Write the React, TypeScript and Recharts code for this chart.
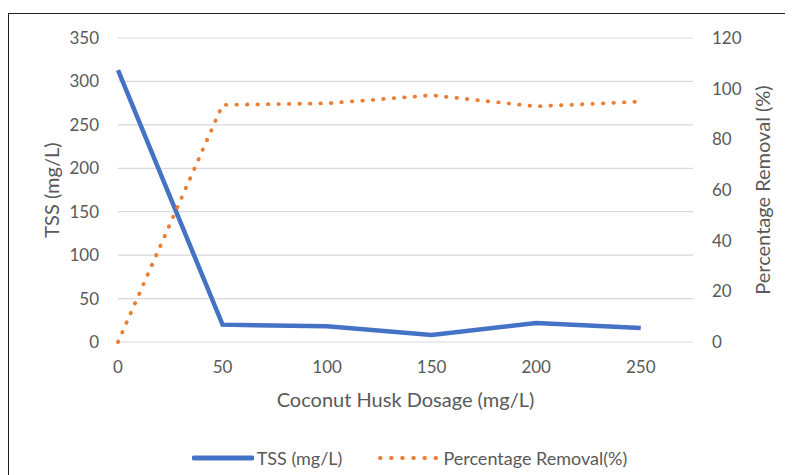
import React from "react";
import {
  LineChart,
  Line,
  XAxis,
  YAxis,
  CartesianGrid,
  Legend,
} from "recharts";

// coconut husk dosage (mg/L)
const dosage = [0, 50, 100, 150, 200, 250];
// total suspended solids left after treatment (mg/L)
const tss = [313, 20, 18, 8, 22, 16];
// removal efficiency (%)
const removal = [0, 93.6, 94.2, 97.4, 93.0, 94.9];

const xTicks = [0, 50, 100, 150, 200, 250];
const tssTicks = [0, 50, 100, 150, 200, 250, 300, 350];
const removalTicks = [0, 20, 40, 60, 80, 100, 120];

const data = dosage.map((d, i) => ({ dosage: d, tss: tss[i], removal: removal[i] }));

const FONT = "Lato, 'Open Sans', sans-serif";
const TEXT = "#595959";
const BLUE = "#4472C4";
const ORANGE = "#ED7D31";

const tick = { fill: TEXT, fontSize: 17, fontFamily: FONT };
const titleStyle = { fill: TEXT, fontSize: 20, fontFamily: FONT, textAnchor: "middle" as const };

function ChartLegend() {
  return (
    <div
      style={{
        height: 30,
        display: "flex",
        alignItems: "center",
        justifyContent: "center",
        paddingLeft: 17,
        fontFamily: FONT,
        fontSize: 18,
        color: TEXT,
      }}
    >
      <svg width={62} height={10} style={{ marginRight: 3 }}>
        <line x1={2} y1={5} x2={60} y2={5} stroke={BLUE} strokeWidth={5} strokeLinecap="round" />
      </svg>
      <span>TSS (mg/L)</span>
      <svg width={60} height={10} style={{ marginLeft: 36, marginRight: 5 }}>
        <line
          x1={2}
          y1={5}
          x2={58}
          y2={5}
          stroke={ORANGE}
          strokeWidth={4}
          strokeLinecap="round"
          strokeDasharray="0.5 10.6"
        />
      </svg>
      <span>Percentage Removal(%)</span>
    </div>
  );
}

export default function App() {
  return (
    <div style={{ paddingTop: 5 }}>
      <div
        style={{
          width: 784,
          height: 461,
          borderTop: "1px solid #1f1f1f",
          borderLeft: "1px solid #1f1f1f",
          background: "#fff",
        }}
      >
        <LineChart
          width={784}
          height={461}
          data={data}
          margin={{ top: 24, right: 0, bottom: 2, left: 0 }}
        >
          <CartesianGrid yAxisId="tss" horizontal vertical={false} stroke="#d9d9d9" strokeWidth={1.2} />
          <XAxis
            dataKey="dosage"
            type="number"
            domain={[0, 275]}
            ticks={xTicks}
            height={101}
            axisLine={false}
            tickLine={false}
            tickMargin={13}
            tick={tick}
            label={{
              value: "Coconut Husk Dosage (mg/L)",
              position: "insideBottom",
              offset: 36,
              style: titleStyle,
            }}
          />
          <YAxis
            yAxisId="tss"
            orientation="left"
            width={109}
            domain={[0, 350]}
            ticks={tssTicks}
            axisLine={false}
            tickLine={false}
            tickMargin={13}
            tick={tick}
            label={{
              value: "TSS (mg/L)",
              angle: -90,
              position: "insideLeft",
              offset: 43,
              style: titleStyle,
            }}
          />
          <YAxis
            yAxisId="removal"
            orientation="right"
            width={100}
            domain={[0, 120]}
            ticks={removalTicks}
            axisLine={false}
            tickLine={false}
            tickMargin={13}
            tick={tick}
            label={{
              value: "Percentage Removal (%)",
              angle: -90,
              position: "insideRight",
              offset: 30,
              style: titleStyle,
            }}
          />
          <Legend verticalAlign="bottom" content={() => <ChartLegend />} />
          <Line
            yAxisId="tss"
            type="linear"
            dataKey="tss"
            name="TSS (mg/L)"
            stroke={BLUE}
            strokeWidth={4.5}
            dot={false}
            isAnimationActive={false}
          />
          <Line
            yAxisId="removal"
            type="linear"
            dataKey="removal"
            name="Percentage Removal(%)"
            stroke={ORANGE}
            strokeWidth={3.8}
            strokeLinecap="round"
            strokeDasharray="0.5 10"
            dot={false}
            isAnimationActive={false}
          />
        </LineChart>
      </div>
    </div>
  );
}
